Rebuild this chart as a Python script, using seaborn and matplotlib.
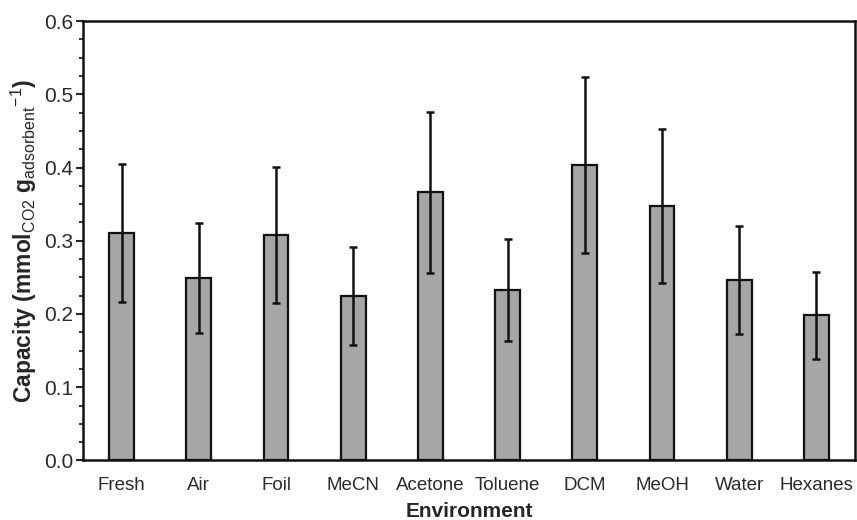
import matplotlib
matplotlib.use("Agg")
import matplotlib.pyplot as plt
import seaborn as sns
import pandas as pd
import numpy as np
from matplotlib.ticker import MultipleLocator

categories = ["Fresh", "Air", "Foil", "MeCN", "Acetone", "Toluene", "DCM", "MeOH", "Water", "Hexanes"]
capacity = [0.311, 0.249, 0.308, 0.225, 0.366, 0.233, 0.403, 0.348, 0.246, 0.198]
error = [0.094, 0.075, 0.093, 0.067, 0.110, 0.070, 0.120, 0.105, 0.074, 0.060]

df = pd.DataFrame({"Environment": categories, "Capacity": capacity})

sns.set_style("ticks")
plt.rcParams["font.family"] = ["Liberation Sans", "DejaVu Sans"]
plt.rcParams["mathtext.fontset"] = "custom"
plt.rcParams["mathtext.rm"] = "Liberation Sans"
plt.rcParams["mathtext.bf"] = "Liberation Sans:bold"
plt.rcParams["mathtext.default"] = "rm"

fig = plt.figure(figsize=(8.57, 5.2), dpi=100)
ax = fig.add_axes([0.0969, 0.1145, 0.9008, 0.845])

sns.barplot(data=df, x="Environment", y="Capacity", order=categories,
            color="#a6a6a6", width=0.32, edgecolor="#111111", linewidth=1.6,
            saturation=1, errorbar=None, ax=ax)
ax.errorbar(np.arange(len(categories)), capacity, yerr=error, fmt="none",
            ecolor="#111111", elinewidth=1.8, capsize=3, capthick=1.8, zorder=5)

ax.set_xlim(-0.5, len(categories) - 0.5)
ax.set_ylim(0, 0.6)
ax.yaxis.set_major_locator(MultipleLocator(0.1))
ax.yaxis.set_minor_locator(MultipleLocator(0.025))
ax.set_yticks(np.arange(0, 0.61, 0.1))
ax.set_yticklabels([f"{v:.1f}" for v in np.arange(0, 0.61, 0.1)])
ax.tick_params(axis="y", which="major", length=5, width=1.5, direction="out",
               labelsize=15, labelcolor="#2a2a2a", pad=2)
ax.tick_params(axis="y", which="minor", length=3, width=1.3, direction="out")
ax.tick_params(axis="x", length=0, labelsize=13.5, labelcolor="#2a2a2a", pad=12)

for s in ax.spines.values():
    s.set_visible(True)
    s.set_linewidth(1.8)
    s.set_color("#111111")

ax.set_xlabel("Environment", fontsize=15, fontweight="bold", labelpad=6)
ax.set_ylabel(r"Capacity (mmol$_{CO2}$ g$_{adsorbent}$$^{-1}$)",
              fontsize=16.5, fontweight="bold", labelpad=4)

fig.savefig("out.png", dpi=100)
